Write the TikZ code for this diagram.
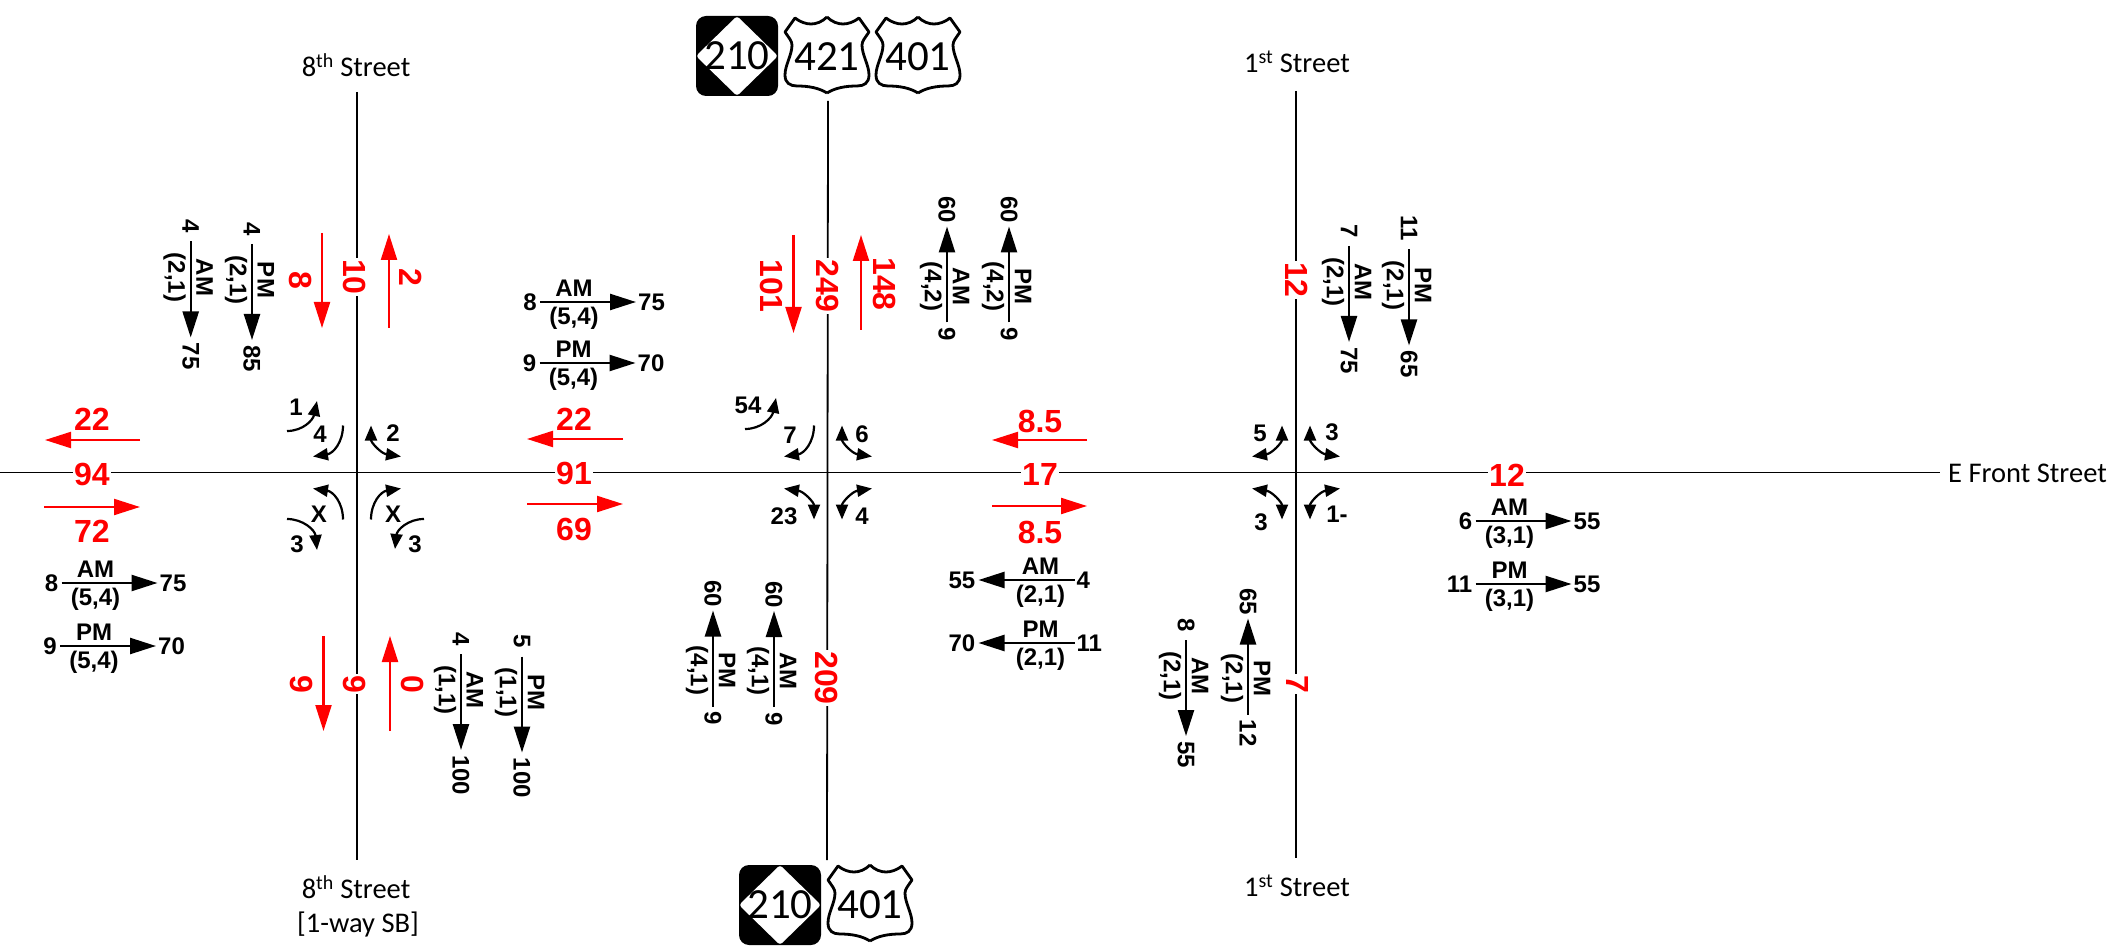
\documentclass[tikz,border=0pt]{standalone}
\usepackage{fontspec}
\setmainfont{Liberation Sans}
\newfontfamily\signfont{Carlito}
\usetikzlibrary{arrows.meta}

\tikzset{
    road/.style={line width=1.8pt, black},
    flowarrow/.style={line width=2.4pt, -{Triangle[length=26pt, width=16pt]}},
    redarrow/.style={line width=2.2pt, red, -{Triangle[length=26pt, width=16pt]}},
    turnone/.style={line width=2.2pt, -{Triangle[length=15pt, width=12pt]}},
    turntwo/.style={line width=2.2pt, {Triangle[length=15pt, width=12pt]}-{Triangle[length=15pt, width=12pt]}},
    blacktext/.style={inner sep=0pt, font=\bfseries\fontsize{24}{24}\selectfont},
    redtext/.style={inner sep=1.5pt, text=red, font=\bfseries\fontsize{32}{32}\selectfont},
    streettext/.style={inner sep=0pt, font=\signfont\fontsize{28.5}{28.5}\selectfont},
    signtext/.style={inner sep=0pt, font=\signfont\fontsize{43}{43}\selectfont},
    signline/.style={line width=2.8pt, line join=round},
}

\begin{document}
\begin{tikzpicture}[x=1pt, y=-1pt]
    \useasboundingbox (0, 0) rectangle (2123, 949);

    % intersections
    \coordinate (a) at (357, 472.5); % 8th
    \coordinate (b) at (828, 472.5);   % middle
    \coordinate (c) at (1296, 472.5); % 1st

    % roads
    \node[streettext, anchor=west] (front) at (1948, 473) {E Front Street};
    \coordinate (fw) at (0, 472.5);
    \coordinate (fe) at (1940, 472.5);
    \draw[road] (fw) -- (fe);
    \coordinate (at) at (357, 92);
    \coordinate (ab) at (357, 860);
    \coordinate (bt) at (828, 101);
    \coordinate (bb) at (827, 860);
    \coordinate (ct) at (1296, 91);
    \coordinate (cb) at (1296, 858);
    \draw[road] (at) -- (ab);
    \draw[road] (bt) -- (bb);
    \draw[road] (ct) -- (cb);

    % street names
    \node[streettext] (a top) at (356, 65) {8\textsuperscript{th} Street};
    \node[streettext] (a low) at (356, 887) {8\textsuperscript{th} Street};
    \node[streettext] (a way) at (358, 924) {[1-way SB]};
    \node[streettext] (c top) at (1297, 62) {1\textsuperscript{st} Street};
    \node[streettext] (c low) at (1297, 886) {1\textsuperscript{st} Street};

    % red volumes, road ones sit on the line
    \foreach \x/\y/\rot/\val [count=\i] in {92/474/0/94, 574/473/0/91, 1040/474/0/17, 1507/475/0/12,
            355/277/-90/10, 355/684/-90/9, 828/286/-90/249, 827/678/-90/209, 1297/280/-90/12, 1297/684/-90/7}
        \node[redtext, fill=white, rotate=\rot] (rv\i) at (\x, \y) {\val};
    \foreach \x/\y/\rot/\val [count=\i] in {92/419/0/22, 92/531/0/72, 574/419/0/22, 574/529/0/69, 1040/421/0/8.5, 1040/532/0/8.5,
            301/280/-90/8, 411/277/-90/2, 302/684/-90/9, 413/684/-90/0, 772/286/-90/101, 885/284/-90/148}
        \node[redtext, rotate=\rot] (rl\i) at (\x, \y) {\val};

    % red arrows
    \foreach \xa/\ya/\xb/\yb in {140/440/45/440, 44/507/140/507, 623/439/527/439, 527/504/623/504, 1087/440/992/440, 992/506/1087/506,
            322/233/322/328, 389/328/389/234, 323.5/636/323.5/731, 390/731/390/636, 793.5/235/793.5/333, 861/330/861/235}
        \draw[redarrow] (\xa, \ya) -- (\xb, \yb);

    % AM / PM counts, one template turned as needed
    \foreach \x/\y/\rot/\d/\na/\per/\win/\nb [count=\i] in {
            109.5/583/0/1/8/AM/{(5,4)}/75, 108/646/0/1/9/PM/{(5,4)}/70,
            588/302/0/1/8/AM/{(5,4)}/75, 587.5/363/0/1/9/PM/{(5,4)}/70,
            1026.5/580/0/-1/55/AM/{(2,1)}/4, 1026.5/643/0/-1/70/PM/{(2,1)}/11,
            1523.5/521/0/1/{6\hspace{11pt}}/AM/{(3,1)}/55, 1523.5/584/0/1/11/PM/{(3,1)}/55,
            190.7/289.5/-90/1/4/AM/{(2,1)}/75, 252/292/-90/1/4/PM/{(2,1)}/85,
            947/274.5/-90/-1/60/AM/{(4,2)}/9, 1009/274.5/-90/-1/60/PM/{(4,2)}/9,
            1349/294/-90/1/7/AM/{(2,1)}/75, 1409/297.5/-90/1/11/PM/{(2,1)}/65,
            461/702/-90/1/4/AM/{(1,1)}/100, 522/704.5/-90/1/5/PM/{(1,1)}/100,
            713/658.5/-90/-1/60/PM/{(4,1)}/9, 774/659/-90/-1/60/AM/{(4,1)}/9,
            1186/688/-90/1/8/AM/{(2,1)}/55, 1248/666.5/-90/-1/65/PM/{(2,1)}/12}
    {
        \begin{scope}[shift={(\x, \y)}, rotate=\rot, every node/.append style={blacktext, transform shape}]
            \draw[flowarrow] ({-48*\d}, 0) -- ({48*\d}, 0);
            \node[anchor=east] (n\i) at ({-51-5*(\d>0)*(\rot<0)}, 0) {\na};
            \node[anchor=west] (m\i) at ({50+3*(\rot<0)}, 0) {\nb};
            \node (p\i) at ({-(14-2*(\rot<0))*\d}, -14) {\per};
            \node (w\i) at ({-(14-2*(\rot<0))*\d}, 16) {\win};
        \end{scope}
    }

    % turn arrows at the corners
    \foreach \I/\sx/\sy/\sty in {a/1/-1/turntwo, a/-1/-1/turnone, a/-1/1/turnone, a/1/1/turnone,
            b/1/-1/turntwo, b/-1/-1/turnone, b/-1/1/turntwo, b/1/1/turntwo,
            c/1/-1/turntwo, c/-1/-1/turntwo, c/-1/1/turntwo, c/1/1/turntwo}
        \draw[\sty, shift={(\I)}] ({14*\sx}, {47*\sy}) .. controls ({14*\sx}, {30*\sy}) and ({24*\sx}, {19*\sy}) .. ({44*\sx}, {16*\sy});
    % the outer ones
    \draw[turnone] (287, 431) .. controls (303, 431) and (313, 420) .. (317, 401);
    \draw[turnone] (745, 429) .. controls (761, 429) and (772, 418) .. (776, 398);
    \draw[turnone] (287, 519) .. controls (303, 519) and (315, 530) .. (317, 550);
    \draw[turnone] (424, 519) .. controls (408, 519) and (397, 530) .. (395, 549);

    % turn counts
    \foreach \x/\y/\val [count=\i] in {320/434/4, 296/407/1, 393/433/2, 319/514/X, 297/544/3, 393/514/X, 415/544/3,
            790/435/7, 748/405/54, 862/434/6, 784/516/23, 862/516/4,
            1260/433/5, 1332/432/3, 1261/522/3, 1337/514/1-}
        \node[blacktext] (t\i) at (\x, \y) {\val};

    % route signs
    \foreach \x/\y/\val [count=\i] in {737/56/210, 780/905/210}
    {
        \begin{scope}[shift={(\x, \y)}]
            \fill[rounded corners=10pt] (-41, -40) rectangle (41, 40);
            \fill[white, rounded corners=3pt] (0, -40) -- (41, 0) -- (0, 40) -- (-41, 0) -- cycle;
            \node[signtext] (nc\i) at (0, 0) {\val};
        \end{scope}
    }
    \foreach \x/\y/\val [count=\i] in {827/55/421, 918/55/401, 870/903/401}
    {
        \begin{scope}[shift={(\x, \y)}]
            \foreach \s in {1, -1}
                \draw[signline, xscale=\s] (0, -38) .. controls (5, -33) and (11, -31) .. (16, -31) .. controls (21, -31) and (27, -33) .. (32, -37)
                    -- (42, -23) .. controls (38, -17) and (35, -14) .. (35, -10) .. controls (35, 0) and (42, 10) .. (42, 20)
                    .. controls (42, 28) and (37, 31) .. (30, 31) .. controls (18, 31) and (8, 33) .. (0, 38);
            \node[signtext] (us\i) at (0, 2) {\val};
        \end{scope}
    }
\end{tikzpicture}
\end{document}
